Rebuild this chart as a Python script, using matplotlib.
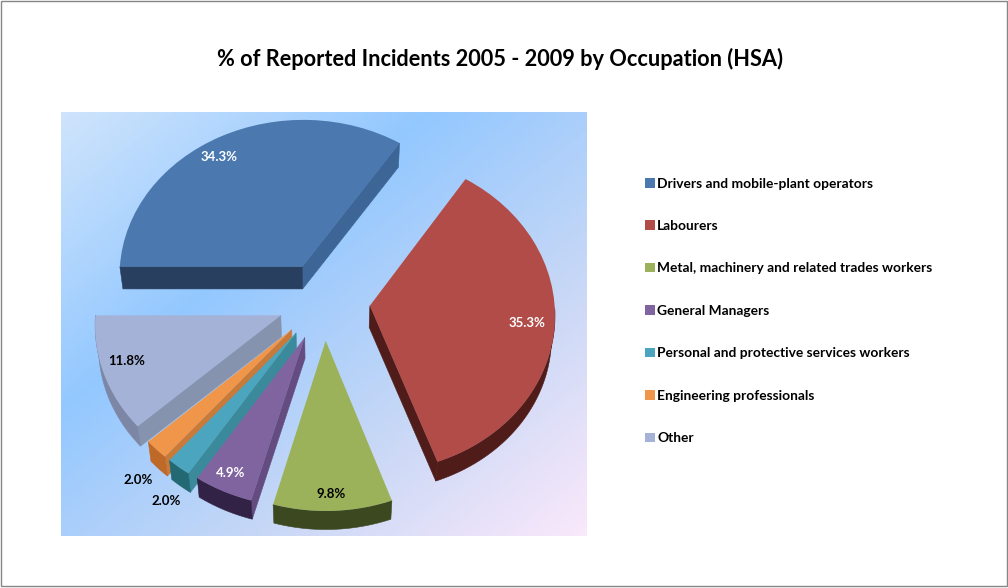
import numpy as np
import matplotlib
matplotlib.use('Agg')
import matplotlib.pyplot as plt
from matplotlib.colors import LinearSegmentedColormap
from matplotlib.patches import Patch, Rectangle
from matplotlib.transforms import Transform

plt.rcParams['font.family'] = ['Lato', 'DejaVu Sans']

# datos
title = '% of Reported Incidents 2005 - 2009 by Occupation (HSA)'
occupations = ['Drivers and mobile-plant operators', 'Labourers',
               'Metal, machinery and related trades workers', 'General Managers',
               'Personal and protective services workers',
               'Engineering professionals', 'Other']
percent = [34.3, 35.3, 9.8, 4.9, 2.0, 2.0, 11.8]

# colores: cara superior, cara cortada clara, cara oscura
top_colors = ['#4a78af', '#b24c49', '#9bb25a', '#80649f', '#4ba5be', '#f0964b', '#a5b2d7']
lit_colors = ['#3d6596', '#8a3a38', '#7c8f48', '#644c80', '#3a8a9c', '#c87a3a', '#8593af']
dark_colors = ['#283f5f', '#501c19', '#3c4820', '#322346', '#236973', '#be6928', '#7d87a5']
label_colors = ['white', 'white', 'black', 'white', 'black', 'black', 'black']
label_pos = [(219, 157), (527, 323), (331, 494), (231, 473), (166, 501), (138, 480), (127, 361)]
draw_order = [0, 6, 5, 4, 3, 2, 1]

# centro y escala de la proyeccion, en pixeles
CX, CY, RX, RY, K = 324, 301, 184.5, 157.5, 0.05
DEPTH, SHRINK = 21.7, 0.985


class Tilt(Transform):
    """Pasa el plano del pie a la vista inclinada con perspectiva."""
    input_dims = 2
    output_dims = 2

    def transform_non_affine(self, values):
        xy = np.asarray(values, dtype=float)
        w = 1 + K * xy[:, 1]
        return np.column_stack((CX + RX * xy[:, 0] / w, CY - RY * xy[:, 1] / w))


tilt = Tilt()


def side_face(ax, pts, color, z):
    upper = tilt.transform(pts)
    lower = np.column_stack((CX + (upper[:, 0] - CX) * SHRINK,
                             CY + (upper[:, 1] - CY) * SHRINK + DEPTH))
    poly = np.vstack((upper, lower[::-1]))
    ax.fill(poly[:, 0], poly[:, 1], color=color, lw=0.4, zorder=z)


fig = plt.figure(figsize=(10.08, 5.88), dpi=100)
ax = fig.add_axes([0, 0, 1, 1])

wedges, _ = ax.pie(percent, startangle=180, counterclock=False, explode=[0.25] * 7,
                   colors=top_colors, wedgeprops={'linewidth': 0})
ax.set_aspect('auto')
ax.axis('off')

# fondo degradado
cmap = LinearSegmentedColormap.from_list('fondo', [(0, '#cfe4fc'), (0.35, '#93c8ff'),
                                                   (0.7, '#c9d8f6'), (1, '#fae8fb')])
gx, gy = np.meshgrid(np.linspace(0, 1, 263), np.linspace(0, 1, 212))
ax.imshow((gx + gy) / 2, cmap=cmap, extent=(61, 587, 536, 112), aspect='auto', zorder=0)
ax.set_xlim(0, 1008)
ax.set_ylim(588, 0)

# caras laterales y cara superior de cada rebanada
for n, i in enumerate(draw_order):
    w = wedges[i]
    z = 2 + n
    t1, t2 = np.radians(w.theta1), np.radians(w.theta2)
    center = np.array(w.center)
    for t, normal in ((t1, t1 - np.pi / 2), (t2, t2 + np.pi / 2)):
        if np.sin(normal) < -1e-6:
            edge = np.array([center, center + w.r * np.array([np.cos(t), np.sin(t)])])
            side_face(ax, edge, lit_colors[i] if np.cos(normal) > 0 else dark_colors[i], z)
    ts = np.linspace(t1, t2, 120)
    ts = ts[np.sin(ts) < 1e-6]
    if len(ts) > 1:
        arc = center + w.r * np.column_stack((np.cos(ts), np.sin(ts)))
        side_face(ax, arc, dark_colors[i], z)
    w.set_transform(tilt + ax.transData)
    w.set_zorder(z + 0.5)

# etiquetas de porcentaje
for value, color, (x, y) in zip(percent, label_colors, label_pos):
    ax.text(x, y, f'{value:.1f}%', color=color, fontsize=9.5, fontweight='bold',
            ha='center', va='center', zorder=20)

ax.text(500, 59, title, fontsize=15.7, fontweight='bold', ha='center', va='center')

handles = [Patch(facecolor=c, edgecolor='none') for c in top_colors]
ax.legend(handles, occupations, loc='upper left', bbox_to_anchor=(645 / 1008, 1 - 177.5 / 588),
          frameon=False, prop={'weight': 'bold', 'size': 9.9}, borderpad=0, borderaxespad=0,
          handlelength=0.7, handleheight=0.7, handletextpad=0.2, labelspacing=2.215)

# borde de la imagen
ax.add_patch(Rectangle((0.5, 0.5), 1006, 585.5, fill=False, edgecolor='#868686', lw=1, zorder=30))

fig.savefig('out.png', dpi=100)
